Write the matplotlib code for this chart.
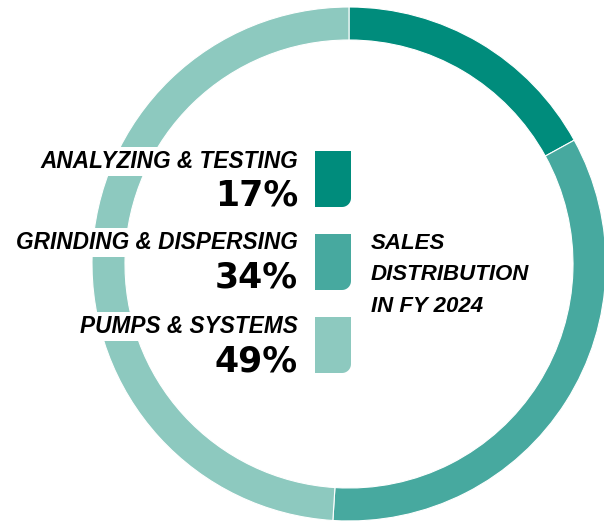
import matplotlib
matplotlib.use("Agg")
import matplotlib.pyplot as plt
from matplotlib.path import Path
from matplotlib.patches import PathPatch
import numpy as np

# ---------------------------------------------------------------- data
segments = ["ANALYZING & TESTING", "GRINDING & DISPERSING", "PUMPS & SYSTEMS"]
shares = [17, 34, 49]
colors = ["#008c7c", "#47a99f", "#8dc9bf"]
title_lines = ["SALES", "DISTRIBUTION", "IN FY 2024"]

W, H = 604, 525


def Y(y):
    # pixel rows (top-down) -> data y (bottom-up)
    return H - y


fig = plt.figure(figsize=(W / 100, H / 100), dpi=100)
ax = fig.add_axes([0, 0, 1, 1])

# ---------- anillo ----------
cx, cy, R, ring = 349, 264, 257, 33
ax.pie(shares, colors=colors, startangle=90, counterclock=False,
       center=(cx, Y(cy)), radius=R,
       wedgeprops=dict(width=ring, edgecolor="white", linewidth=0.8))
ax.set_xlim(0, W)
ax.set_ylim(0, H)
ax.set_aspect("equal")
ax.axis("off")


def swatch(x0, y_top, w, h, r, color):
    """Rectángulo con la esquina inferior derecha redondeada."""
    x1, y1, yb = x0 + w, Y(y_top), Y(y_top + h)
    t = np.linspace(0, -np.pi / 2, 12)
    arc = [(x1 - r + r * np.cos(a), yb + r + r * np.sin(a)) for a in t]
    pts = [(x0, y1), (x1, y1)] + arc + [(x0, yb), (x0, y1)]
    codes = [Path.MOVETO] + [Path.LINETO] * (len(pts) - 2) + [Path.CLOSEPOLY]
    ax.add_patch(PathPatch(Path(pts, codes), facecolor=color, edgecolor="none"))


label_font = dict(family=["Liberation Sans", "DejaVu Sans"], weight="bold", style="italic")
pct_font = dict(family=["DejaVu Sans"], weight="bold")

label_base = [168, 249, 333]
pct_base = [205, 288, 371]
sw_top = [151, 234, 317]

for i, (name, val, col) in enumerate(zip(segments, shares, colors)):
    ax.text(298, Y(label_base[i]), name, ha="right", va="baseline",
            fontsize=16.3, color="black", **label_font,
            bbox=dict(facecolor="white", edgecolor="none", pad=2))
    ax.text(298, Y(pct_base[i]), f"{val}%", ha="right", va="baseline",
            fontsize=25, color="black", **pct_font)
    swatch(315, sw_top[i], 36, 56, 9, col)

for j, line in enumerate(title_lines):
    ax.text(371, Y(249 + j * 31.5), line, ha="left", va="baseline",
            fontsize=16, color="black", **label_font)

fig.savefig("out.png", dpi=100, facecolor="white")
